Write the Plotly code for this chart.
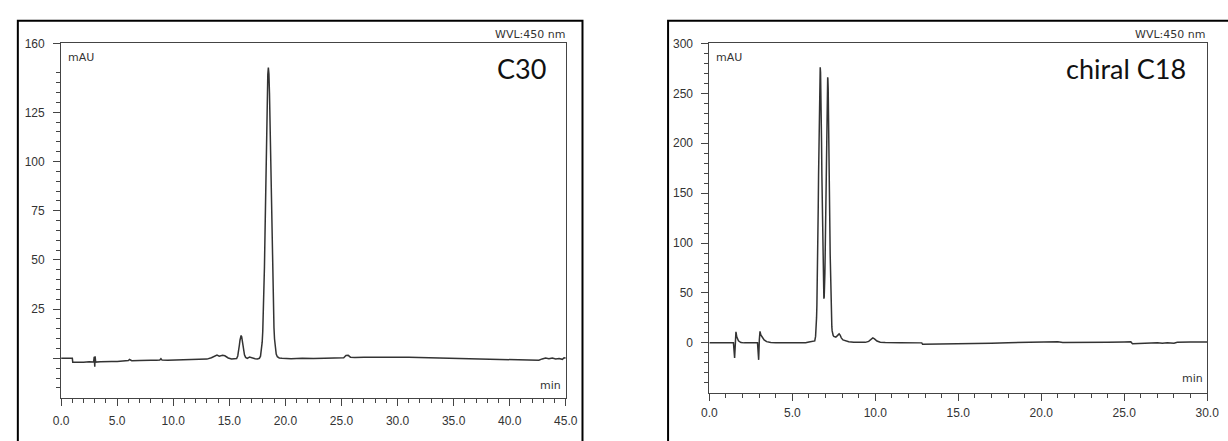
import plotly.graph_objects as go

W, H = 1228, 441

# ---------------- DATA ----------------
# Left chromatogram: C30 column (time in min, absorbance in mAU)
c30_time = [0.0, 0.6, 1.0, 1.04, 1.5, 2.0, 2.5, 2.9, 2.95, 3.0, 3.03, 3.08, 3.5, 4.0, 4.5, 5.0,
            5.5, 6.0, 6.1, 6.3, 7.0, 7.5, 8.0, 8.5, 8.8, 8.9, 9.0, 9.5, 10.0, 10.5, 11.0, 11.5,
            12.0, 12.5, 13.0, 13.4, 13.7, 13.9, 14.1, 14.4, 14.6, 14.9, 15.2, 15.5, 15.65, 15.75,
            15.8, 15.85, 15.9, 15.95, 16.0, 16.05, 16.1, 16.15, 16.2, 16.25, 16.3, 16.35, 16.45,
            16.6, 16.8, 17.0, 17.3, 17.5, 17.68, 17.78, 17.88, 17.93, 17.98, 18.03, 18.08, 18.13,
            18.18, 18.23, 18.28, 18.33, 18.38, 18.43, 18.48, 18.53, 18.58, 18.63, 18.68, 18.73,
            18.78, 18.83, 18.88, 18.93, 18.98, 19.03, 19.08, 19.18, 19.28, 19.45, 19.7, 20.5,
            21.5, 22.5, 23.5, 24.5, 25.2, 25.4, 25.6, 25.8, 26.2, 27.0, 28.0, 29.0, 30.0, 31.0,
            32.0, 33.0, 34.0, 35.0, 36.0, 37.0, 38.0, 39.0, 40.0, 41.0, 42.0, 42.6, 42.9, 43.2,
            43.5, 43.8, 44.1, 44.4, 44.7, 44.85, 45.0]
c30_mau = [0.0, 0.1, 0.0, -2.0, -2.1, -2.0, -1.8, -1.9, 0.8, -4.2, 1.0, -1.9, -1.7, -1.8, -1.6, -1.6,
           -1.4, -1.1, -0.6, -1.2, -1.1, -1.2, -1.0, -1.0, -0.8, -0.2, -0.9, -1.0, -0.9, -0.9, -0.8, -0.9,
           -0.8, -0.6, -0.4, 0.3, 1.3, 1.6, 1.1, 1.5, 1.3, 0.2, -0.3, -0.4, -0.1, 1.2,
           2.6, 4.5, 6.9, 9.2, 11.0, 11.6, 11.0, 9.3, 7.0, 4.8, 3.0, 1.8, 0.5,
           0.0, 0.6, 0.2, -0.2, -0.3, 0.0, 1.1, 4.6, 8.2, 13.6, 21.5, 32.3, 46.2,
           62.9, 81.7, 101.1, 119.3, 134.4, 144.2, 147.7, 144.4, 134.8, 120.0, 102.0, 83.0,
           64.5, 48.0, 34.2, 23.5, 15.5, 9.8, 6.0, 2.2, 0.8, 0.2, 0.0, -0.2,
           0.1, -0.1, 0.1, 0.2, 0.3, 1.4, 1.5, 0.6, 0.4, 0.5, 0.6, 0.7, 0.6, 0.5,
           0.4, 0.3, 0.2, 0.0, -0.1, -0.2, -0.3, -0.5, -0.6, -0.8, -0.9, -1.0, -0.3, 0.1,
           -0.2, 0.2, -0.3, -0.1, -0.5, 0.3, 0.2]

# Right chromatogram: chiral C18 column
c18_time = [0.0, 1.0, 1.45, 1.52, 1.56, 1.6, 1.65, 1.75, 1.9, 2.1, 2.9, 2.97, 3.01, 3.05, 3.1, 3.2,
            3.3, 3.45, 3.7, 4.0, 5.0, 5.8, 6.0, 6.25, 6.35, 6.40, 6.42, 6.44, 6.46, 6.48, 6.50,
            6.52, 6.54, 6.56, 6.58, 6.60, 6.62, 6.64, 6.66, 6.68, 6.70, 6.72, 6.74, 6.76, 6.78,
            6.80, 6.82, 6.84, 6.86, 6.88, 6.90, 6.92, 6.94, 6.96, 6.98, 7.00, 7.02, 7.04, 7.06,
            7.08, 7.10, 7.12, 7.13, 7.14, 7.16, 7.18, 7.20, 7.22, 7.24, 7.26, 7.28, 7.30, 7.32,
            7.34, 7.36, 7.38, 7.40, 7.42, 7.46, 7.50, 7.55, 7.62, 7.70, 7.78, 7.82, 7.88, 7.95,
            8.05, 8.2, 8.4, 8.7, 9.0, 9.4, 9.6, 9.75, 9.85, 9.95, 10.1, 10.3, 10.6, 11.5, 12.5,
            12.8, 12.85, 13.5, 14.5, 15.0, 15.5, 16.0, 17.0, 18.0, 19.0, 20.0, 20.5, 21.0, 21.3,
            22.0, 23.0, 24.0, 25.0, 25.4, 25.5, 26.0, 26.3, 26.6, 27.0, 27.3, 27.6, 28.0, 28.2,
            29.0, 30.0]
c18_mau = [0.0, 0.0, 0.0, -15.0, 4.0, 11.0, 6.0, 2.0, 0.3, 0.0, 0.0, -17.0, 3.0, 11.5, 8.0, 5.5,
           3.0, 1.2, 0.3, 0.0, 0.0, 0.2, 0.9, 1.2, 2.0, 6.5, 10.4, 16.5, 25.5, 38.3, 55.5,
           77.6, 104.4, 135.0, 168.0, 201.0, 231.0, 255.0, 271.0, 276.0, 271.0, 255.0, 231.0, 201.0, 168.5,
           136.0, 106.5, 81.5, 62.4, 49.9, 44.3, 45.7, 54.0, 69.0, 90.0, 116.5, 146.6, 178.3, 208.4,
           235.0, 254.3, 264.7, 266.0, 264.7, 254.5, 235.2, 208.8, 178.4, 146.5, 116.0, 88.5, 65.5, 47.0,
           33.0, 23.0, 16.0, 12.0, 9.5, 7.5, 6.5, 6.0, 5.8, 7.0, 8.8, 9.0, 7.8, 5.0,
           3.0, 2.0, 1.2, 0.6, 0.4, 0.5, 1.5, 4.2, 5.0, 4.0, 1.8, 0.6, 0.3, 0.2, 0.1,
           0.0, -1.5, -1.4, -1.0, -0.8, -1.0, -0.5, -0.3, 0.2, 0.5, 0.6, 0.9, 1.2, 0.4,
           0.3, 0.5, 0.7, 0.9, 1.0, -0.8, -0.6, 0.0, -0.6, 0.2, -0.5, 0.1, -0.3, 0.6,
           0.8, 0.8]

# Tick labels
c30_xticks = [0, 5, 10, 15, 20, 25, 30, 35, 40, 45]
c30_xlabels = ["0.0", "5.0", "10.0", "15.0", "20.0", "25.0", "30.0", "35.0", "40.0", "45.0"]
c30_yticks = [0, 25, 50, 75, 100, 125, 160]
c30_ylabels = ["", "25", "50", "75", "100", "125", "160"]
c18_xticks = [0, 5, 10, 15, 20, 25, 30]
c18_xlabels = ["0.0", "5.0", "10.0", "15.0", "20.0", "25.0", "30.0"]
c18_yticks = [0, 50, 100, 150, 200, 250, 300]
c18_ylabels = ["0", "50", "100", "150", "200", "250", "300"]

panel_titles = ["C30", "chiral C18"]
wavelength_label = "WVL:450 nm"
y_unit = "mAU"
x_unit = "min"

# ---------------- FIGURE ----------------
def px(x):
    return x / W

def py(y):
    return 1 - y / H

AX = "#444444"
TXT = "#333333"
tick_font = dict(family="Liberation Sans, Arial, sans-serif", size=12, color=TXT)

c30_yminor = [v for v in range(-15, 155, 5) if v % 25 != 0]
c18_yminor = [v for v in range(-40, 300, 10) if v % 50 != 0]

fig = go.Figure()
fig.add_trace(go.Scatter(x=c30_time, y=c30_mau, mode="lines",
                         line=dict(color="#333333", width=1.5), xaxis="x", yaxis="y",
                         showlegend=False))
fig.add_trace(go.Scatter(x=c18_time, y=c18_mau, mode="lines",
                         line=dict(color="#333333", width=1.5), xaxis="x2", yaxis="y2",
                         showlegend=False))

common_axis = dict(showline=True, linecolor=AX, linewidth=1, mirror=True, showgrid=False,
                   zeroline=False, ticks="outside", ticklen=7, tickwidth=1, tickcolor=AX,
                   tickfont=tick_font)

fig.update_layout(
    width=W, height=H,
    margin=dict(l=0, r=0, t=0, b=0),
    paper_bgcolor="white", plot_bgcolor="white",
    showlegend=False,
    xaxis=dict(domain=[px(54), px(567)], range=[0, 45], anchor="y",
               tickmode="array", tickvals=c30_xticks, ticktext=c30_xlabels,
               minor=dict(ticks="outside", dtick=1, tick0=0, ticklen=4, tickcolor=AX),
               ticklabelstandoff=5, **common_axis),
    yaxis=dict(domain=[py(397), py(37)], range=[-20, 160], anchor="x",
               tickmode="array", tickvals=c30_yticks, ticktext=c30_ylabels,
               minor=dict(ticks="outside", tickmode="array", tickvals=c30_yminor,
                          ticklen=4, tickcolor=AX),
               ticklabelstandoff=6, **common_axis),
    xaxis2=dict(domain=[px(713), px(1219)], range=[0, 30], anchor="y2",
                tickmode="array", tickvals=c18_xticks, ticktext=c18_xlabels,
                minor=dict(ticks="outside", dtick=1, tick0=0, ticklen=4, tickcolor=AX),
                ticklabelstandoff=2, **common_axis),
    yaxis2=dict(domain=[py(392), py(37)], range=[-50, 300], anchor="x2",
                tickmode="array", tickvals=c18_yticks, ticktext=c18_ylabels,
                minor=dict(ticks="outside", tickmode="array", tickvals=c18_yminor,
                           ticklen=4, tickcolor=AX),
                ticklabelstandoff=6, **common_axis),
)

small = dict(family="DejaVu Sans, Verdana, sans-serif", size=11, color=TXT)
big = dict(family="Lato, 'Open Sans', sans-serif", size=27, color="#111111")

annotations = [
    dict(x=px(568), y=py(28), text=wavelength_label, xanchor="right", yanchor="middle", font=small),
    dict(x=px(1219), y=py(28), text=wavelength_label, xanchor="right", yanchor="middle", font=small),
    dict(x=px(59), y=py(51), text=y_unit, xanchor="left", yanchor="middle", font=small),
    dict(x=px(718), y=py(51), text=y_unit, xanchor="left", yanchor="middle", font=small),
    dict(x=px(564), y=py(385), text=x_unit, xanchor="right", yanchor="middle", font=small),
    dict(x=px(1217), y=py(377), text=x_unit, xanchor="right", yanchor="middle", font=small),
    dict(x=px(549), y=py(63), text=panel_titles[0], xanchor="right", yanchor="middle", font=big),
    dict(x=px(1200), y=py(63), text=panel_titles[1], xanchor="right", yanchor="middle", font=big),
]
for a in annotations:
    a.update(xref="paper", yref="paper", showarrow=False)
fig.update_layout(annotations=annotations)

fig.update_layout(shapes=[
    dict(type="rect", xref="paper", yref="paper", x0=px(10), x1=px(584), y0=py(14), y1=py(470),
         line=dict(color="black", width=2), fillcolor="rgba(0,0,0,0)", layer="above"),
    dict(type="rect", xref="paper", yref="paper", x0=px(671), x1=px(1250), y0=py(14), y1=py(470),
         line=dict(color="black", width=2), fillcolor="rgba(0,0,0,0)", layer="above"),
])

fig.write_html(
    "out.html",
    config={"displayModeBar": False},
    post_script=("document.documentElement.style.margin='0';"
                 "document.body.style.margin='0';"
                 "document.body.style.overflow='hidden';"
                 "document.documentElement.style.overflow='hidden';"),
)
